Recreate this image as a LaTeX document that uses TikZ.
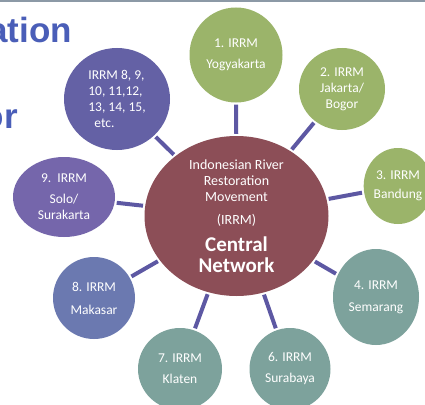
\documentclass[tikz,border=0pt]{standalone}
\usepackage{fontspec}
\setmainfont{Carlito}
\newfontfamily\titlefont{Liberation Sans}
\usetikzlibrary{shapes.geometric}
\definecolor{cgreen}{HTML}{9BB46A}
\definecolor{cteal}{HTML}{7DA29C}
\definecolor{cpurpleA}{HTML}{6461A5}
\definecolor{cpurpleB}{HTML}{7566AB}
\definecolor{cblueP}{HTML}{6B79B0}
\definecolor{ccentral}{HTML}{8C4E57}
\definecolor{cconn}{HTML}{5D58A3}
\definecolor{ctitle}{HTML}{4A5EB8}
\definecolor{ctopline}{HTML}{8C99A6}
\begin{document}
\begin{tikzpicture}[x=1pt,y=-1pt,
  bubble/.style={ellipse, inner sep=0pt, text=white, align=center,
    font=\fontsize{13.5}{16}\selectfont},
  conn/.style={draw=cconn, line width=4pt, shorten <=2pt, shorten >=2pt},
  titletext/.style={text=ctitle, inner sep=0pt, font=\titlefont\bfseries\fontsize{35}{40}\selectfont}]
\useasboundingbox (0,0) rectangle (425,404);
\fill[white] (0,0) rectangle (425,404);
\fill[ctopline] (0,0) rectangle (425,2);
\node[titletext, anchor=base east] (t1) at (72,43) {ation};
\node[titletext, anchor=base east] (t2) at (18,128) {or};
% central
\node[bubble, fill=ccentral, minimum width=184pt, minimum height=160pt,
  font=\fontsize{14}{16}\selectfont] (c) at (236.5,216)
  {Indonesian River\\Restoration\\Movement\\[7pt](IRRM)\\[9pt]%
   {\fontsize{21}{21}\selectfont\bfseries Central}\\[5pt]{\fontsize{21}{21}\selectfont\bfseries Network}};
% satellites
\node[bubble, fill=cgreen, minimum width=93pt, minimum height=95pt] (s1) at (236,55) {1. IRRM\\[5pt]Yogyakarta};
\node[bubble, fill=cgreen, minimum width=86pt, minimum height=82pt] (s2) at (342,89) {2. IRRM\\Jakarta/\\Bogor};
\node[bubble, fill=cgreen, minimum width=66pt, minimum height=76pt] (s3) at (398,186) {3. IRRM\\[3pt]Bandung};
\node[bubble, fill=cteal, minimum width=86pt, minimum height=96pt] (s4) at (376,297) {4. IRRM\\[6pt]Semarang};
\node[bubble, fill=cteal, minimum width=81pt, minimum height=82pt] (s6) at (290,369) {6. IRRM\\[5pt]Surabaya};
\node[bubble, fill=cteal, minimum width=84pt, minimum height=82pt] (s7) at (180,369) {7. IRRM\\[5pt]Klaten};
\node[bubble, fill=cblueP, minimum width=82pt, minimum height=82pt] (s8) at (94,298) {8. IRRM\\[7pt]Makasar};
\node[bubble, fill=cpurpleB, minimum width=102pt, minimum height=80pt] (s9) at (64,197) {9.\ \ IRRM\\[5pt]Solo/\\Surakarta};
\node[bubble, fill=cpurpleA, minimum width=106pt, minimum height=102pt, align=left] (s10) at (117,99) {IRRM 8, 9,\\10, 11,12,\\13, 14, 15,\\\ \ etc.};
% connectors
\foreach \s in {s1,s2,s3,s4,s6,s7,s8,s9,s10} {\draw[conn] (c) -- (\s);}
\end{tikzpicture}
\end{document}
